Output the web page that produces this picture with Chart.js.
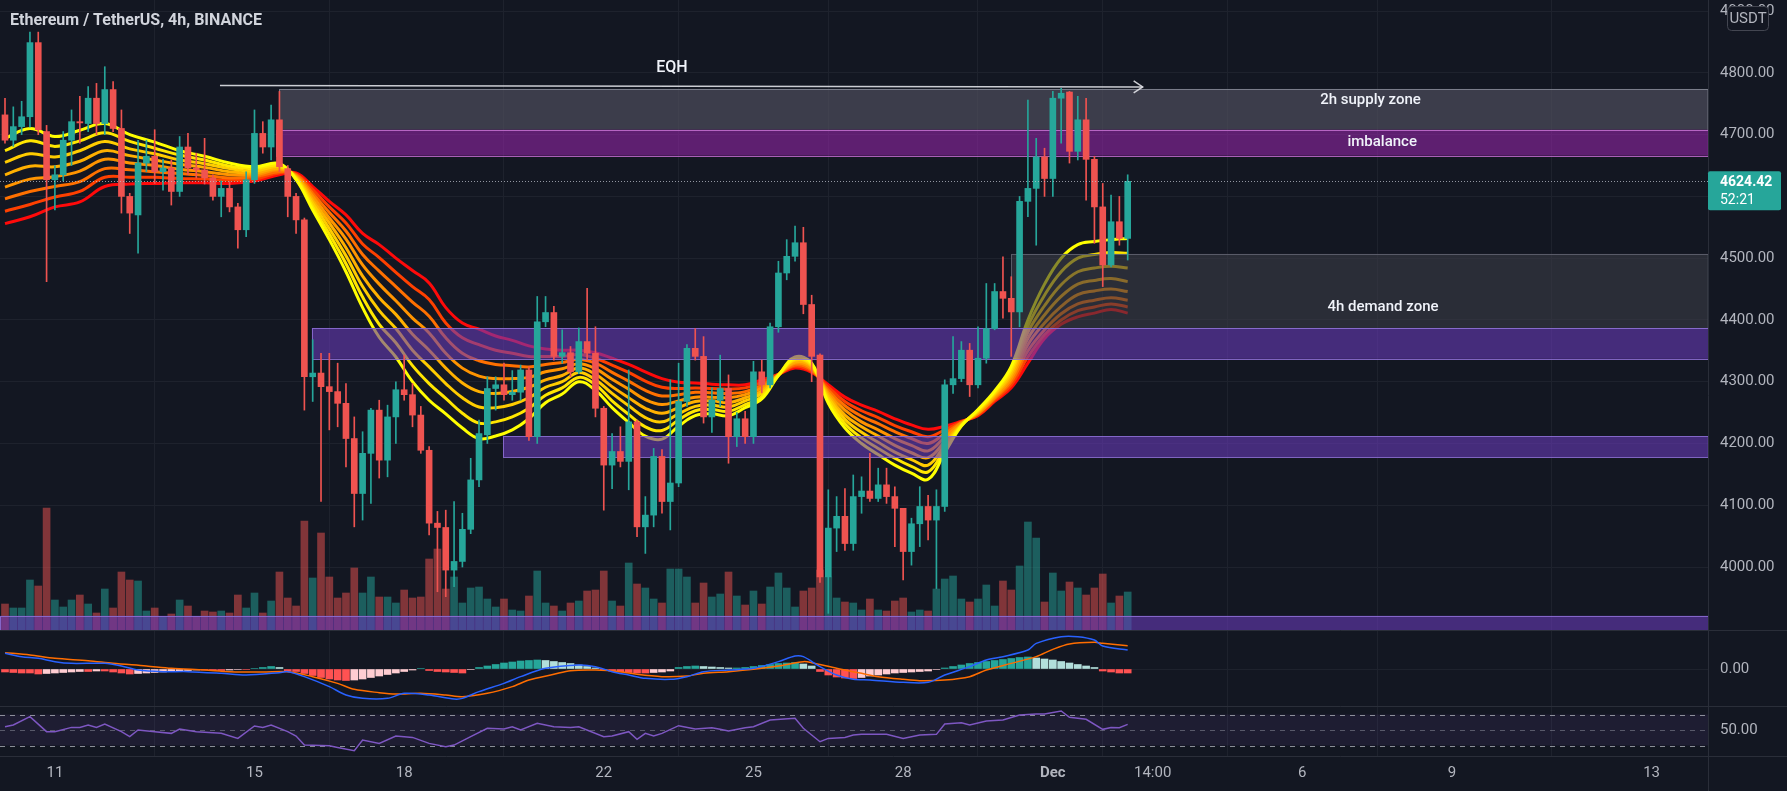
<!DOCTYPE html>
<html>
<head>
<meta charset="utf-8">
<title>ETHUSDT 4h</title>
<script src="https://cdn.jsdelivr.net/npm/chart.js@4.4.1/dist/chart.umd.min.js"></script>
<style>
  html, body { margin: 0; padding: 0; background: #131722; overflow: hidden; }
  canvas { display: block; }
</style>
</head>
<body>
<canvas id="myChart" width="1787" height="791"></canvas>
<script>
// 4h candles, oldest first (index 0 .. 135)
const opens = [4732,4691,4713,4729,4849,4705,4627,4635,4691,4721, 4718,4759,4718,4773,4710,4600,4570,4654,4665,4640,
  4646,4608,4680,4646,4643,4630,4600,4613,4583,4546, 4627,4702,4680,4724,4645,4600,4562,4308,4314,4292,
  4284,4265,4208,4119,4184,4254,4173,4243,4287,4279, 4246,4189,4071,4064,3995,4009,4061,4141,4214,4289,
  4295,4279,4283,4319,4211,4397,4412,4341,4347,4316, 4365,4346,4257,4165,4187,4171,4235,4065,4084,4179,
  4106,4136,4268,4354,4341,4243,4270,4289,4211,4240, 4211,4316,4295,4389,4476,4503,4525,4425,4343,3984,
  4063,4082,4038,4114,4123,4111,4133,4114,4095,4025, 4070,4098,4076,4098,4295,4305,4351,4295,4338,4386,
  4446,4435,4413,4592,4613,4664,4629,4759,4769,4673, 4724,4660,4583,4489,4559,4532];
const highs = [4759,4745,4754,4866,4866,4715,4650,4705,4740,4762, 4778,4783,4810,4786,4740,4605,4691,4691,4708,4660,
  4659,4697,4702,4670,4694,4635,4625,4624,4589,4640, 4740,4721,4748,4770,4650,4605,4565,4368,4346,4346,
  4330,4297,4243,4219,4257,4270,4262,4300,4343,4297, 4260,4195,4090,4092,4106,4087,4176,4238,4308,4308,
  4330,4318,4327,4324,4438,4438,4422,4384,4357,4387, 4451,4389,4260,4216,4227,4319,4238,4114,4192,4190,
  4303,4330,4360,4386,4373,4290,4343,4311,4250,4252, 4333,4335,4395,4495,4530,4552,4550,4440,4345,4125,
  4114,4127,4149,4146,4184,4160,4160,4130,4095,4079, 4130,4116,4125,4303,4373,4365,4362,4389,4459,4459,
  4502,4470,4600,4756,4694,4678,4770,4775,4770,4762, 4759,4665,4621,4602,4600,4635];
const lows = [4686,4681,4700,4712,4700,4462,4578,4625,4650,4686, 4705,4700,4700,4705,4573,4540,4508,4640,4621,4610,
  4586,4600,4635,4630,4620,4594,4567,4575,4516,4535, 4621,4670,4659,4640,4567,4540,4254,4268,4106,4222,
  4227,4162,4065,4076,4103,4144,4146,4200,4270,4227, 4184,4052,3960,3952,3968,4000,4054,4130,4200,4254,
  4270,4270,4270,4205,4200,4389,4335,4330,4308,4313, 4335,4243,4092,4127,4162,4125,4049,4022,4065,4087,
  4060,4130,4260,4335,4233,4218,4260,4168,4195,4200, 4200,4282,4290,4380,4465,4495,4410,4300,3975,3925,
  4025,4027,4027,4087,4106,4106,4103,4033,3979,4003, 4033,4044,3965,4090,4281,4300,4276,4290,4330,4384,
  4403,4341,4389,4567,4521,4600,4600,4686,4654,4659, 4594,4524,4454,4486,4521,4497];
const closes = [4691,4713,4729,4849,4708,4627,4635,4691,4721,4719, 4759,4718,4773,4710,4600,4573,4654,4665,4640,4646,
  4608,4680,4646,4643,4630,4600,4613,4583,4546,4627, 4702,4680,4724,4648,4600,4562,4308,4314,4292,4284,
  4265,4208,4119,4184,4254,4173,4243,4287,4279,4246, 4189,4071,4064,3995,4009,4061,4141,4216,4289,4295,
  4279,4283,4319,4211,4397,4412,4341,4347,4316,4365, 4346,4257,4165,4187,4171,4235,4065,4084,4179,4106,
  4136,4268,4354,4341,4243,4270,4289,4211,4240,4211, 4316,4295,4389,4476,4503,4525,4425,4341,3984,4063,
  4082,4038,4114,4123,4111,4133,4114,4095,4025,4070, 4098,4076,4098,4295,4305,4351,4295,4338,4386,4446,
  4435,4413,4592,4613,4664,4629,4759,4767,4673,4724, 4660,4583,4489,4559,4532,4624.42];
// volume, thousand ETH
const vols = [26,22,22,50,44,122,30,23,30,35, 26,17,41,22,58,50,49,19,22,13,
  16,30,24,13,19,18,19,17,35,22, 37,17,29,58,32,24,109,52,97,53,
  32,37,62,37,53,33,33,27,40,32, 33,71,81,41,53,27,42,43,31,23,
  31,20,19,34,59,27,24,19,27,29, 39,40,59,29,24,67,46,42,31,27,
  61,61,53,27,47,33,36,58,34,25, 39,26,43,57,42,23,39,42,60,53,
  32,28,27,20,31,20,19,29,32,18, 20,19,41,51,54,31,28,31,45,24,
  49,40,64,108,92,28,57,39,48,42, 35,42,56,27,34,38];

// EMA ribbon, read every few bars (fast line first)
const emaIdx = [0,3,6,9,12,15,18,21,24,27,30,33, 35,37,39,41,43,45,47,49,51,53, 55,57,59,61,63,65,67,69,71,73,
  75,77,79,81,83,85,87,89,91,93, 95,97,99,101,103,105,107,109,111,113, 115,117,119,121,123,125,127,129,131,133,135];
const ema1 = [4694,4710,4697,4707,4718,4700,4688,4674,4665,4654,4648,4653, 4627,4578,4530,4478,4420,4372,4340,4300,4270,4248,
  4225,4208,4212,4222,4240,4266,4280,4300,4286,4258, 4234,4212,4207,4228,4245,4248,4245,4258,4272,4310,
  4340,4330,4265,4225,4200,4182,4165,4152,4142,4185, 4228,4255,4285,4325,4400,4458,4500,4522,4527,4530,4532];
const ema2 = [4674,4690,4681,4690,4703,4689,4678,4667,4659,4649,4645,4650, 4629,4583,4539,4491,4437,4393,4363,4326,4297,4273,
  4249,4233,4235,4243,4257,4278,4290,4307,4295,4269, 4247,4227,4221,4238,4253,4255,4252,4263,4276,4310,
  4337,4328,4269,4232,4209,4192,4176,4163,4154,4191, 4229,4254,4283,4320,4390,4440,4478,4500,4506,4509,4508];
const ema3 = [4655,4669,4664,4674,4689,4677,4669,4659,4653,4645,4641,4648, 4630,4589,4548,4504,4454,4415,4386,4351,4324,4297,
  4274,4259,4258,4263,4274,4291,4300,4315,4303,4281, 4261,4242,4235,4248,4260,4262,4259,4269,4281,4311,
  4335,4326,4274,4239,4218,4202,4186,4174,4165,4197, 4230,4252,4280,4315,4380,4423,4457,4478,4484,4487,4484];
const ema4 = [4635,4649,4648,4657,4674,4666,4659,4652,4647,4640,4638,4645, 4632,4594,4557,4517,4471,4436,4409,4377,4351,4322,
  4298,4284,4281,4284,4291,4303,4310,4322,4312,4292, 4274,4257,4249,4258,4268,4269,4266,4274,4285,4311,
  4332,4324,4278,4246,4227,4212,4197,4185,4177,4203, 4231,4251,4278,4310,4370,4408,4438,4458,4464,4467,4462];
const ema5 = [4615,4628,4632,4641,4660,4654,4650,4644,4640,4635,4635,4643, 4633,4600,4565,4531,4489,4458,4431,4403,4379,4346,
  4322,4309,4305,4305,4307,4316,4321,4329,4321,4304, 4288,4271,4263,4269,4275,4275,4274,4279,4290,4311,
  4330,4321,4282,4254,4235,4222,4208,4197,4188,4210, 4233,4249,4275,4305,4360,4395,4422,4441,4447,4450,4446];
const ema6 = [4596,4608,4616,4624,4645,4643,4640,4637,4634,4630,4632,4640, 4635,4605,4574,4544,4506,4479,4454,4429,4406,4371,
  4346,4334,4328,4326,4324,4328,4331,4336,4330,4315, 4301,4286,4277,4279,4283,4282,4281,4284,4294,4311,
  4327,4319,4286,4261,4244,4232,4219,4208,4200,4216, 4234,4248,4273,4300,4350,4384,4410,4426,4432,4436,4432];
const ema7 = [4576,4587,4599,4608,4631,4631,4631,4629,4628,4626,4628,4638, 4636,4611,4583,4557,4523,4501,4477,4454,4433,4395,
  4371,4360,4351,4346,4341,4341,4341,4344,4338,4327, 4315,4301,4291,4289,4290,4289,4288,4290,4299,4312,
  4325,4317,4291,4268,4253,4242,4229,4219,4211,4222, 4235,4246,4270,4295,4340,4376,4400,4415,4421,4426,4421];
const ema8 = [4556,4567,4583,4591,4616,4620,4621,4622,4622,4621,4625,4635, 4638,4616,4592,4570,4540,4522,4500,4480,4460,4420,
  4395,4385,4374,4367,4358,4353,4351,4351,4347,4338, 4328,4316,4305,4299,4298,4296,4295,4295,4303,4312,
  4322,4315,4295,4275,4262,4252,4240,4230,4223,4228, 4236,4245,4268,4290,4330,4370,4393,4405,4411,4417,4411];

// MACD pane
const macdHist = [-6,-7,-8,-8,-10,-9,-8,-7,-6,-5, -5,-4,-4,-6,-8,-10,-9,-8,-7,-6,
  -5,-4,-3,-2,-2,-3,-3,-2,-1,-1, 1,3,5,3,-4,-5,-9,-13,-17,-20,
  -22,-23,-22,-20,-17,-14,-11,-8,-5,-2, 1,-3,-5,-6,-7,-8,-1,3,6,9,
  12,14,16,17,18,17,15,13,11,8, 5,2,-2,-4,-6,-7,-8,-8,-7,-6,
  -4,3,5,6,5,4,3,2,2,3, 5,7,9,11,12,13,10,6,-5,-12,
  -16,-18,-19,-17,-14,-12,-10,-8,-7,-6, -5,-4,-1,2,5,8,11,13,15,17,
  19,21,23,24,22,20,18,15,12,9, 6,3,-4,-6,-8,-8];
const macdIdx = [0,2,4,6,8,12,14,16,19,22, 26,29,33,34,36,39,41,43,46,48, 51,54,55,57,60,62,65,69,71,73,
  75,77,80,82,84,87,90,93,95,96, 98,100,102,104,108,111,113,116,118,120, 123,124,127,129,131,132,135];
const macdLine = [31.3,24.7,21.3,14.7,11.3,11.3,6,-2,-5.3,-5.3, -8.7,-12,-7.3,-5.3,-15.3,-35.3,-52,-58.7,-58.7,-48.7,
  -52,-60,-58.7,-45.3,-28.7,-15.3,1.3,8,4.7,-5.3, -12,-18.7,-20.7,-15.3,-5.3,-2,1.3,14.7,26,24.7,
  4.7,-12,-20.7,-22,-26.7,-26.7,-12,4.7,18,24.7, 38,51.3,64.7,64.7,58,46,38];
const signalIdx = [0,3,6,10,13,17,20,24,27,31, 34,37,40,42,45,47,50,53,55,58, 61,63,66,68,71,74,76,79,82,84,
  87,90,93,96,97,100,103,105,108,110, 113,116,118,121,124,126,128,131,132,135];
const signalLine = [32.7,28,21.3,16.7,11.3,6,1.3,-2,-5.3,-6, -5.3,-15.3,-28.7,-40.7,-47.3,-50,-48.7,-52,-55.3,-48.7,
  -35.3,-22,-10.7,-3.3,-2,-5.3,-10.7,-15.3,-14,-8.7, -5.3,-0.7,6,14.7,12.7,1.3,-8.7,-15.3,-20.7,-23.3,
  -22,-15.3,-2,11.3,24.7,39.3,50,53.3,51.3,46.7];

// RSI pane
const rsiIdx = [0,1,3,5,6,8,9,10,11,12, 14,15,16,18,20,21,23,26,28,30, 31,32,34,35,36,39,40,42,43,45,
  47,49,51,53,54,56,58,60,61,62, 64,66,68,69,72,73,75,76,77,78, 79,81,83,85,86,87,89,90,92,95,
  96,98,99,101,102,103,106,108,110,112, 113,115,116,118,120,122,124,125,127,128, 130,132,133,134,135];
const rsiVals = [54.3,56.5,67.2,47.9,47.9,53.4,53.4,56.5,53.4,57.7, 47.9,41.4,50,47.9,45.7,51.3,47.9,45.7,39.2,55.2,
  53.4,56.5,47.9,42.3,30.6,29.8,27.6,23.3,37.1,32.8, 42.3,40.5,32.8,28.5,30.6,41.4,52.2,51.3,54.3,50,
  58.6,54.3,53.4,54.3,41.4,42.3,47.9,38,45.7,42.3, 45.7,55.6,51.3,53,50.9,48.7,53,54.3,62.9,65.1,
  52.2,34.9,39.2,40.5,43.5,44.4,44.4,39.2,43.5,44.4, 57.7,59.4,56.5,61.6,62.9,69.4,70.7,70.7,74.6,66.4,
  63.8,50.9,53.4,53,57.3];

// axis labels
const timeTickPos = [6,30,48,72,90,108,126,138,156,174,198];
const timeTickLabels = ['11','15','18','22','25','28','Dec','14:00','6','9','13'];
const priceTicks = [4000,4100,4200,4300,4400,4500,4600,4700,4800,4900];

// drawn zones (price range, first bar)
const zoneTop    = [4774, 4708, 4507, 4387, 4212, 3921];
const zoneBottom = [4708, 4666, 4387, 4337, 4178, 3898];
const zoneStart  = [33, 32.6, 121, 36.9, 59.9, -0.6];
const zoneFill   = ['rgba(78,79,93,0.7)', 'rgba(156,39,176,0.55)', 'rgba(58,60,70,0.6)',
                    'rgba(103,58,183,0.6)', 'rgba(103,58,183,0.6)', 'rgba(103,58,183,0.6)'];
const zoneEdge   = ['rgba(130,133,145,0.9)', 'rgba(186,104,200,0.9)', 'rgba(95,98,110,0.9)',
                    'rgba(140,110,210,0.9)', 'rgba(140,110,210,0.9)', 'rgba(140,110,210,0.9)'];
const noteText  = ['2h supply zone', 'imbalance', '4h demand zone', 'EQH'];
const noteX     = [164.2, 165.6, 165.7, 80.2];
const notePrice = [4756, 4688, 4421, 4808];
const eqhX = [25.85, 136.8];
const eqhY = [4779.4, 4777.3];

const lastPrice = closes[closes.length - 1];
const countdown = '52:21';

const up = '#26a69a', down = '#ef5350';
const gridColor = '#1e222d';
const emaColors = ['#ffff00','#ffe600','#ffcc00','#ffb000','#ff9400','#ff7000','#ff4000','#ff0a0a'];
const emaSets = [ema1, ema2, ema3, ema4, ema5, ema6, ema7, ema8];

Chart.defaults.font.family = 'Roboto, sans-serif';
Chart.defaults.color = '#b2b5be';

const rising = closes.map((c, i) => c >= opens[i]);

var datasets = [];
datasets.push({
  type: 'bar', label: 'volume', yAxisID: 'yVol', order: 40, grouped: false, barThickness: 7,
  data: vols.map((v, i) => ({x: i, y: v})),
  backgroundColor: rising.map(r => r ? 'rgba(38,166,154,0.5)' : 'rgba(239,83,80,0.5)')
});
for (var k = 0; k < emaSets.length; k++) {
  datasets.push({
    type: 'line', label: 'ema' + k, yAxisID: 'yMain', order: 10 + k,
    data: emaIdx.map((j, n) => ({x: j, y: emaSets[k][n]})),
    borderColor: emaColors[k], borderWidth: 3, pointRadius: 0, tension: 0.4
  });
}
datasets.push({
  type: 'bar', label: 'wicks', yAxisID: 'yMain', order: 2, grouped: false, barThickness: 1,
  data: lows.map((l, i) => ({x: i, y: [l, highs[i]]})),
  backgroundColor: rising.map(r => r ? up : down)
});
datasets.push({
  type: 'bar', label: 'bodies', yAxisID: 'yMain', order: 1, grouped: false, barThickness: 6, minBarLength: 1,
  data: opens.map((o, i) => ({x: i, y: [o, closes[i]]})),
  backgroundColor: rising.map(r => r ? up : down)
});
datasets.push({
  type: 'bar', label: 'hist', yAxisID: 'yMacd', order: 6, grouped: false, barThickness: 7,
  data: macdHist.map((v, i) => ({x: i, y: v})),
  backgroundColor: macdHist.map((v, i) => {
    var prev = i > 0 ? macdHist[i - 1] : v;
    if (v >= 0) return v >= prev ? '#26a69a' : '#b2dfdb';
    return v <= prev ? '#ff5252' : '#ffcdd2';
  })
});
datasets.push({
  type: 'line', label: 'macd', yAxisID: 'yMacd', order: 4,
  data: macdIdx.map((j, n) => ({x: j, y: macdLine[n]})),
  borderColor: '#2962ff', borderWidth: 1.5, pointRadius: 0, tension: 0.3
});
datasets.push({
  type: 'line', label: 'signal', yAxisID: 'yMacd', order: 5,
  data: signalIdx.map((j, n) => ({x: j, y: signalLine[n]})),
  borderColor: '#ff6d00', borderWidth: 1.5, pointRadius: 0, tension: 0.3
});
datasets.push({
  type: 'line', label: 'rsi', yAxisID: 'yRsi', order: 4,
  data: rsiIdx.map((j, n) => ({x: j, y: rsiVals[n]})),
  borderColor: '#7e57c2', borderWidth: 1.5, pointRadius: 0, tension: 0
});

// drawings: zones under the candles, labels and price tag on top
const overlays = {
  id: 'overlays',
  beforeDatasetsDraw(chart) {
    const ctx = chart.ctx, a = chart.chartArea, r = chart.scales.yRsi;
    const y70 = r.getPixelForValue(70), y50 = r.getPixelForValue(50), y30 = r.getPixelForValue(30);
    ctx.save();
    ctx.fillStyle = 'rgba(126,87,194,0.1)';
    ctx.fillRect(a.left, y70, a.right - a.left, y30 - y70);
    ctx.setLineDash([5, 5]);
    ctx.lineWidth = 1;
    [[y70, 'rgba(178,181,190,0.75)'], [y50, 'rgba(178,181,190,0.4)'], [y30, 'rgba(178,181,190,0.75)']].forEach(function (d) {
      ctx.strokeStyle = d[1];
      ctx.beginPath(); ctx.moveTo(a.left, Math.round(d[0]) + 0.5); ctx.lineTo(a.right, Math.round(d[0]) + 0.5); ctx.stroke();
    });
    ctx.restore();
  },
  beforeDatasetDraw(chart, args) {
    if (chart.data.datasets[args.index].label !== 'wicks') return;
    const ctx = chart.ctx, a = chart.chartArea, x = chart.scales.x, y = chart.scales.yMain;
    ctx.save();
    ctx.beginPath(); ctx.rect(a.left, y.top, a.right - a.left, y.bottom - y.top); ctx.clip();
    for (var i = 0; i < zoneTop.length; i++) {
      var x1 = Math.max(a.left, x.getPixelForValue(zoneStart[i]));
      var y1 = y.getPixelForValue(zoneTop[i]), y2 = y.getPixelForValue(zoneBottom[i]);
      ctx.fillStyle = zoneFill[i];
      ctx.fillRect(x1, y1, a.right - x1, y2 - y1);
      ctx.strokeStyle = zoneEdge[i]; ctx.lineWidth = 1;
      ctx.strokeRect(Math.round(x1) + 0.5, Math.round(y1) + 0.5, a.right - x1, Math.round(y2 - y1));
    }
    ctx.restore();
  },
  afterDatasetsDraw(chart) {
    const ctx = chart.ctx, a = chart.chartArea, x = chart.scales.x, y = chart.scales.yMain;
    ctx.save();
    // last price line
    var py = Math.round(y.getPixelForValue(lastPrice)) + 0.5;
    ctx.strokeStyle = 'rgba(190,194,204,0.75)'; ctx.lineWidth = 1; ctx.setLineDash([1, 2]);
    ctx.beginPath(); ctx.moveTo(a.left, py); ctx.lineTo(a.right, py); ctx.stroke();
    ctx.setLineDash([]);
    // EQH arrow
    var ax1 = x.getPixelForValue(eqhX[0]), ax2 = x.getPixelForValue(eqhX[1]);
    var ay1 = y.getPixelForValue(eqhY[0]), ay2 = y.getPixelForValue(eqhY[1]);
    ctx.strokeStyle = 'rgba(225,226,232,0.9)'; ctx.lineWidth = 1.5;
    ctx.beginPath(); ctx.moveTo(ax1, ay1); ctx.lineTo(ax2, ay2); ctx.stroke();
    ctx.beginPath(); ctx.moveTo(ax2 - 9, ay2 - 6); ctx.lineTo(ax2, ay2); ctx.lineTo(ax2 - 9, ay2 + 6); ctx.stroke();
    // zone notes
    ctx.fillStyle = '#f0f3fa'; ctx.textAlign = 'center'; ctx.textBaseline = 'middle';
    for (var i = 0; i < noteText.length; i++) {
      ctx.font = (noteText[i] === 'EQH' ? '500 16px' : '500 15px') + ' Roboto, sans-serif';
      ctx.fillText(noteText[i], x.getPixelForValue(noteX[i]), y.getPixelForValue(notePrice[i]));
    }
    // title
    ctx.textAlign = 'left'; ctx.fillStyle = '#d1d4dc';
    ctx.font = 'bold 16px Roboto, sans-serif';
    ctx.fillText('Ethereum / TetherUS, 4h, BINANCE', 10, 21);
    ctx.restore();
  },
  afterDraw(chart) {
    const ctx = chart.ctx, a = chart.chartArea, y = chart.scales.yMain;
    const W = chart.width, H = chart.height;
    ctx.save();
    ctx.strokeStyle = '#2a2e39'; ctx.lineWidth = 1;
    [chart.scales.yMain.bottom, chart.scales.yMacd.bottom, chart.scales.yRsi.bottom].forEach(function (b) {
      var yy = Math.round(b) + 0.5;
      ctx.beginPath(); ctx.moveTo(0, yy); ctx.lineTo(W, yy); ctx.stroke();
    });
    var xr = Math.round(a.right) + 0.5;
    ctx.beginPath(); ctx.moveTo(xr, 0); ctx.lineTo(xr, H); ctx.stroke();
    // last price tag
    var py = y.getPixelForValue(lastPrice);
    ctx.fillStyle = up;
    ctx.beginPath(); ctx.roundRect(a.right, py - 10, 73, 39, 2); ctx.fill();
    ctx.fillStyle = '#ffffff'; ctx.textAlign = 'left'; ctx.textBaseline = 'middle';
    ctx.font = 'bold 14px Roboto, sans-serif';
    ctx.fillText(lastPrice.toFixed(2), a.right + 12, py + 1);
    ctx.font = '14px Roboto, sans-serif';
    ctx.fillText(countdown, a.right + 12, py + 19);
    // currency badge
    ctx.fillStyle = '#131722'; ctx.strokeStyle = '#434651';
    ctx.beginPath(); ctx.roundRect(1727.5, 6.5, 41, 24, 4); ctx.fill(); ctx.stroke();
    ctx.fillStyle = '#b2b5be'; ctx.textAlign = 'center';
    ctx.font = '15px Roboto, sans-serif';
    ctx.fillText('USDT', 1748, 19);
    ctx.restore();
  }
};

function fixWidth(scale) { scale.width = 79; scale.paddingTop = 0; scale.paddingBottom = 0; }

const my_canva = document.getElementById('myChart');
const eth_chart = new Chart(my_canva, {
  type: 'bar',
  data: { datasets: datasets },
  options: {
    responsive: false,
    animation: false,
    events: [],
    layout: { padding: 0 },
    plugins: { legend: { display: false }, tooltip: { enabled: false } },
    scales: {
      x: {
        type: 'linear', position: 'bottom', min: -0.601, max: 204.78, offset: false,
        afterBuildTicks: (axis) => { axis.ticks = timeTickPos.map(v => ({ value: v })); },
        afterFit: (axis) => { axis.height = 35; axis.paddingLeft = 0; axis.paddingRight = 0; },
        ticks: {
          autoSkip: false, maxRotation: 0, padding: 8, color: '#b2b5be',
          font: (ctx) => ({ size: 15, weight: timeTickLabels[ctx.index] === 'Dec' ? 'bold' : 'normal' }),
          callback: (value, index) => timeTickLabels[index]
        },
        grid: { color: gridColor, drawTicks: false },
        border: { display: false }
      },
      yMain: {
        type: 'linear', position: 'right', stack: 'panes', stackWeight: 630, min: 3898, max: 4918,
        afterBuildTicks: (axis) => { axis.ticks = priceTicks.map(v => ({ value: v })); },
        afterFit: fixWidth,
        ticks: { padding: 12, font: { size: 15 }, callback: (v) => Number(v).toFixed(2) },
        grid: { color: gridColor, drawTicks: false },
        border: { display: false }
      },
      yMacd: {
        type: 'linear', position: 'right', stack: 'panes', stackWeight: 76, min: -74, max: 78,
        afterBuildTicks: (axis) => { axis.ticks = [{ value: 0 }]; },
        afterFit: fixWidth,
        ticks: { padding: 12, font: { size: 15 }, callback: (v) => Number(v).toFixed(2) },
        grid: { color: gridColor, drawTicks: false },
        border: { display: false }
      },
      yRsi: {
        type: 'linear', position: 'right', stack: 'panes', stackWeight: 50, min: 16.5, max: 81,
        afterBuildTicks: (axis) => { axis.ticks = [{ value: 50 }]; },
        afterFit: fixWidth,
        ticks: { padding: 12, font: { size: 15 }, callback: (v) => Number(v).toFixed(2) },
        grid: { display: false, drawTicks: false },
        border: { display: false }
      },
      yVol: {
        type: 'linear', position: 'left', display: false, min: -126, max: 630
      }
    }
  },
  plugins: [overlays]
});
</script>
</body>
</html>
